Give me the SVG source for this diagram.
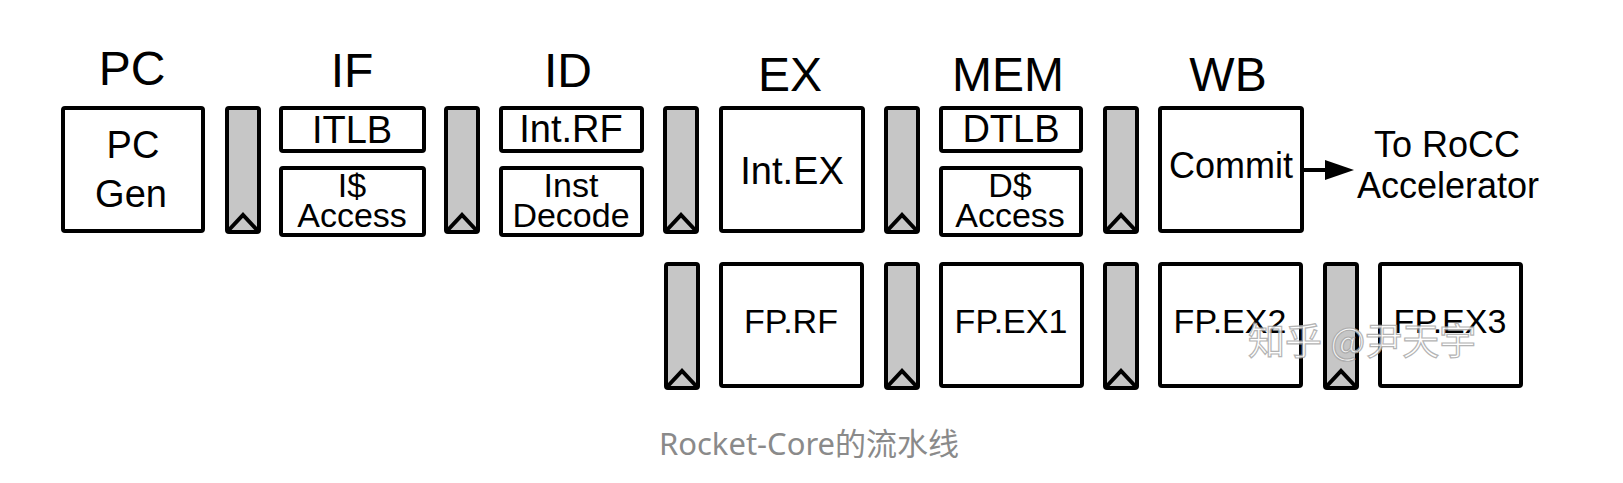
<svg xmlns="http://www.w3.org/2000/svg" width="1623" height="483" viewBox="0 0 1623 483">
<style>
.box{fill:#fff;stroke:#000;stroke-width:4;stroke-linejoin:round}
.reg{fill:#c6c6c6;stroke:#000;stroke-width:4;stroke-linejoin:round}
.chev{fill:none;stroke:#000;stroke-width:4;stroke-linejoin:miter}
.t{font-family:"Liberation Sans",Arial,sans-serif;fill:#000;text-anchor:middle}
.stage{font-size:48px}
.big{font-size:38px}
.mid{font-size:36px}
.two{font-size:34px}
.fp{font-size:34px}
.cap{font-family:"Noto Sans","Noto Sans CJK SC",sans-serif;font-size:31px;fill:#8a8a8a;text-anchor:middle}
.wm{font-family:"Noto Sans CJK SC",sans-serif;font-size:37px;fill:#fff;stroke:#a8a8a8;stroke-width:1.2;opacity:0.85}
</style>
<defs>
<g id="regTop"><rect class="reg" x="0" y="0" width="32" height="124" rx="2"/><path class="chev" d="M0,124 L16,107 L32,124"/></g>
</defs>
<rect width="1623" height="483" fill="#fff"/>
<g id="stage-labels">
<text class="t stage" x="132" y="85">PC</text>
<text class="t stage" x="352" y="87">IF</text>
<text class="t stage" x="568" y="87">ID</text>
<text class="t stage" x="790" y="91">EX</text>
<text class="t stage" x="1008" y="91">MEM</text>
<text class="t stage" x="1228" y="91">WB</text>
</g>
<g id="pcgen"><rect class="box" x="63" y="108" width="140" height="123" rx="2"/>
<text class="t big" x="133" y="158">PC</text><text class="t big" x="131" y="207">Gen</text></g>
<g id="itlb"><rect class="box" x="281" y="108" width="143" height="43" rx="2"/><text class="t big" x="352" y="143">ITLB</text></g>
<g id="icache"><rect class="box" x="281" y="168" width="143" height="67" rx="2"/>
<text class="t two" x="352" y="197">I$</text><text class="t two" x="352" y="227">Access</text></g>
<g id="intrf"><rect class="box" x="501" y="108" width="141" height="43" rx="2"/><text class="t big" x="571" y="142">Int.RF</text></g>
<g id="decode"><rect class="box" x="501" y="168" width="141" height="67" rx="2"/>
<text class="t two" x="571" y="197">Inst</text><text class="t two" x="571" y="227">Decode</text></g>
<g id="intex"><rect class="box" x="721" y="108" width="142" height="123" rx="2"/><text class="t big" x="792" y="184">Int.EX</text></g>
<g id="dtlb"><rect class="box" x="941" y="108" width="140" height="43" rx="2"/><text class="t big" x="1011" y="142">DTLB</text></g>
<g id="dcache"><rect class="box" x="941" y="168" width="140" height="67" rx="2"/>
<text class="t two" x="1010" y="197">D$</text><text class="t two" x="1010" y="227">Access</text></g>
<g id="commit"><rect class="box" x="1160" y="108" width="142" height="123" rx="2"/><text class="t mid" x="1231" y="178">Commit</text></g>
<g id="rocc"><text class="t mid" x="1447" y="157">To RoCC</text><text class="t mid" x="1448" y="198">Accelerator</text></g>
<g id="fprf"><rect class="box" x="721" y="264" width="141" height="122" rx="2"/><text class="t fp" x="791" y="333">FP.RF</text></g>
<g id="fpex1"><rect class="box" x="941" y="264" width="141" height="122" rx="2"/><text class="t fp" x="1011" y="333">FP.EX1</text></g>
<g id="fpex2"><rect class="box" x="1160" y="264" width="141" height="122" rx="2"/><text class="t fp" x="1230" y="333">FP.EX2</text></g>
<g id="fpex3"><rect class="box" x="1380" y="264" width="141" height="122" rx="2"/><text class="t fp" x="1450" y="333">FP.EX3</text></g>
<g id="registers">
<use href="#regTop" x="227" y="108"/>
<use href="#regTop" x="446" y="108"/>
<use href="#regTop" x="665" y="108"/>
<use href="#regTop" x="886" y="108"/>
<use href="#regTop" x="1105" y="108"/>
<use href="#regTop" x="666" y="264"/>
<use href="#regTop" x="886" y="264"/>
<use href="#regTop" x="1105" y="264"/>
<use href="#regTop" x="1325" y="264"/>
</g>
<g id="connectors">
<line x1="1304" y1="170" x2="1328" y2="170" stroke="#000" stroke-width="4"/>
<polygon points="1325,160 1354,170 1325,180" fill="#000"/>
</g>
<text class="wm" x="1248" y="355">知乎 @尹天宇</text>
<text class="cap" x="809" y="455">Rocket-Core的流水线</text>
</svg>
